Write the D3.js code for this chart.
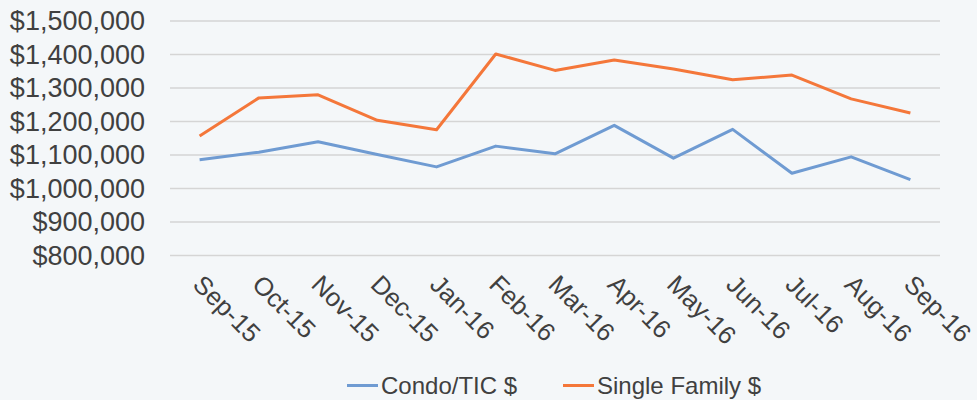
<!DOCTYPE html>
<html><head><meta charset="utf-8">
<script src="https://cdn.jsdelivr.net/npm/d3@7"></script>
<style>
html,body{margin:0;padding:0;background:#f4f7f9;}
svg{display:block;}
text{font-family:"Liberation Sans",Arial,sans-serif;fill:#404040;}
</style></head>
<body>
<script>
const months = ["Sep-15","Oct-15","Nov-15","Dec-15","Jan-16","Feb-16","Mar-16","Apr-16","May-16","Jun-16","Jul-16","Aug-16","Sep-16"];
const condo = [1084000,1107000,1138000,1100000,1063000,1125000,1102000,1187000,1089000,1175000,1044000,1093000,1025000];
const singleFamily = [1155000,1269000,1278000,1202000,1174000,1400000,1351000,1382000,1355000,1323000,1337000,1266000,1224000];
const yTicks = [800000,900000,1000000,1100000,1200000,1300000,1400000,1500000];
const seriesNames = ["Condo/TIC $","Single Family $"];
const colors = ["#6f9bd2","#f4773a"];

const W=977,H=400;
const svg=d3.select("body").append("svg").attr("width",W).attr("height",H);
const x=d3.scaleBand().domain(months).range([170,940]);
const y=d3.scaleLinear().domain([800000,1500000]).range([255,20.5]);
const fmt=d3.format("$,");

const ya=svg.append("g").attr("transform","translate(170,0)")
  .call(d3.axisLeft(y).tickValues(yTicks).tickSize(-770).tickFormat(fmt).tickPadding(25));
ya.select(".domain").remove();
ya.selectAll("line").attr("stroke","#d5d5d5").attr("stroke-width",1.6);
ya.selectAll("text").attr("font-size",27).attr("dy","0.35em").style("fill","#404040");

const xa=svg.append("g").attr("transform","translate(0,255)")
  .call(d3.axisBottom(x).tickSize(0).tickPadding(0));
xa.select(".domain").remove();
xa.selectAll("text").attr("font-size",25.5).attr("text-anchor","start")
  .attr("transform","translate(-8,31) rotate(45)").attr("y",0).attr("dy","0").style("fill","#404040");

const line=d3.line().x((d,i)=>x(months[i])+x.bandwidth()/2).y(d=>y(d));
[condo,singleFamily].forEach((s,k)=>{
  svg.append("path").datum(s).attr("d",line).attr("fill","none")
    .attr("stroke",colors[k]).attr("stroke-width",3).attr("stroke-linejoin","round");
});

const lg=[{x:347,label:seriesNames[0],c:colors[0]},{x:563,label:seriesNames[1],c:colors[1]}];
lg.forEach(d=>{
  svg.append("line").attr("x1",d.x).attr("x2",d.x+31).attr("y1",385.5).attr("y2",385.5)
    .attr("stroke",d.c).attr("stroke-width",3);
  svg.append("text").attr("x",d.x+34).attr("y",394).attr("font-size",24).text(d.label);
});
</script>
</body></html>
